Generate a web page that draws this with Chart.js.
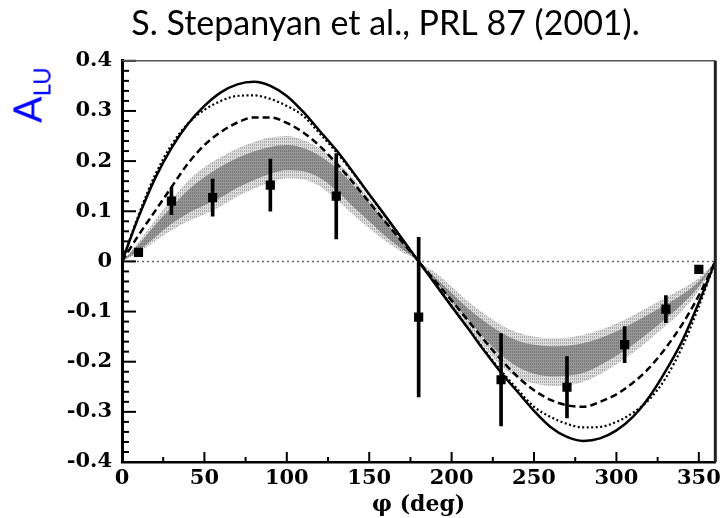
<!DOCTYPE html>
<html lang="en">
<head>
  <meta charset="UTF-8">
  <title>Beam spin asymmetry A_LU vs phi</title>
  <script src="https://cdn.jsdelivr.net/npm/chart.js"></script>
  <style>
    body { margin: 0; background: #fff; }
    #wrap { position: relative; width: 725px; height: 518px; }
    #ylab {
      position: absolute; left: 27px; top: 95px;
      transform: translate(-50%, -50%) rotate(-90deg);
      color: #0000ff; font-family: Lato, sans-serif;
      white-space: nowrap; line-height: 1;
    }
    #ylab .a { font-size: 39px; }
    #ylab .s { font-size: 24px; position: relative; top: 9px; }
  </style>
</head>
<body>
  <div id="wrap">
    <canvas id="chart" width="725" height="518"></canvas>
    <div id="ylab"><span class="a">A</span><span class="s">LU</span></div>
  </div>

  <script>
    // curve grid, phi in degrees
    const phi = [0, 10, 20, 30, 40, 50, 60, 70, 80, 90, 100, 110, 120, 130, 140, 150, 160, 170, 180,
                 190, 200, 210, 220, 230, 240, 250, 260, 270, 280, 290, 300, 310, 320, 330, 340, 350, 360];

    // model curves
    const solidCurve = [0, 0.088, 0.165, 0.226, 0.274, 0.31, 0.337, 0.353, 0.358, 0.35, 0.33, 0.298, 0.26, 0.222, 0.179, 0.134, 0.09, 0.045, 0,
                        -0.045, -0.09, -0.134, -0.179, -0.222, -0.26, -0.298, -0.33, -0.35, -0.358, -0.353, -0.337, -0.31, -0.27, -0.218, -0.158, -0.082, 0];
    const dottedCurve = [0, 0.092, 0.172, 0.232, 0.275, 0.302, 0.32, 0.33, 0.331, 0.324, 0.31, 0.29, 0.255, 0.218, 0.177, 0.133, 0.089, 0.044, 0,
                         -0.044, -0.089, -0.133, -0.177, -0.218, -0.255, -0.29, -0.31, -0.324, -0.331, -0.33, -0.32, -0.302, -0.275, -0.232, -0.17, -0.09, 0];
    const dashedCurve = [0, 0.052, 0.1, 0.148, 0.195, 0.232, 0.258, 0.277, 0.287, 0.287, 0.276, 0.257, 0.23, 0.196, 0.158, 0.118, 0.078, 0.039, 0,
                         -0.039, -0.078, -0.118, -0.158, -0.196, -0.23, -0.257, -0.276, -0.287, -0.29, -0.28, -0.265, -0.242, -0.212, -0.172, -0.125, -0.068, 0];

    // error band (outer light, inner dark)
    const bandOuterHi = [0, 0.038, 0.082, 0.123, 0.16, 0.188, 0.208, 0.225, 0.238, 0.247, 0.25, 0.242, 0.225, 0.2, 0.166, 0.126, 0.085, 0.043, 0,
                         -0.022, -0.05, -0.08, -0.105, -0.127, -0.142, -0.15, -0.153, -0.152, -0.147, -0.137, -0.124, -0.108, -0.09, -0.072, -0.054, -0.033, 0];
    const bandOuterLo = [0, 0.017, 0.04, 0.062, 0.08, 0.094, 0.11, 0.13, 0.145, 0.158, 0.166, 0.164, 0.15, 0.124, 0.094, 0.066, 0.04, 0.018, 0,
                         -0.043, -0.087, -0.13, -0.172, -0.208, -0.232, -0.243, -0.248, -0.247, -0.24, -0.225, -0.205, -0.182, -0.156, -0.128, -0.098, -0.058, 0];
    const bandInnerHi = [0, 0.033, 0.072, 0.108, 0.142, 0.168, 0.189, 0.206, 0.219, 0.228, 0.232, 0.226, 0.21, 0.186, 0.153, 0.116, 0.078, 0.039, 0,
                         -0.032, -0.063, -0.094, -0.12, -0.142, -0.158, -0.166, -0.169, -0.168, -0.163, -0.153, -0.14, -0.123, -0.105, -0.086, -0.066, -0.04, 0];
    const bandInnerLo = [0, 0.021, 0.048, 0.075, 0.096, 0.112, 0.128, 0.147, 0.162, 0.175, 0.182, 0.18, 0.167, 0.142, 0.11, 0.08, 0.05, 0.024, 0,
                         -0.039, -0.078, -0.116, -0.153, -0.186, -0.21, -0.224, -0.229, -0.228, -0.222, -0.207, -0.188, -0.166, -0.141, -0.114, -0.085, -0.05, 0];

    // CLAS data points
    const phiPoints = [10, 30, 55, 90, 130, 180, 230, 270, 305, 330, 350];
    const aluPoints = [0.018, 0.12, 0.127, 0.152, 0.13, -0.111, -0.236, -0.251, -0.166, -0.095, -0.016];
    const aluErrors = [0.008, 0.027, 0.037, 0.052, 0.085, 0.159, 0.092, 0.061, 0.036, 0.027, 0.008];

    // tick positions (major ones carry labels)
    const xTickValues = [0, 25, 50, 75, 100, 125, 150, 175, 200, 225, 250, 275, 300, 325, 350];
    const xTickLabels = ['0', '', '50', '', '100', '', '150', '', '200', '', '250', '', '300', '', '350'];
    const yTickValues = [-0.4, -0.38, -0.36, -0.34, -0.32, -0.3, -0.28, -0.26, -0.24, -0.22, -0.2, -0.18, -0.16, -0.14, -0.12,
                         -0.1, -0.08, -0.06, -0.04, -0.02, 0, 0.02, 0.04, 0.06, 0.08, 0.1, 0.12, 0.14, 0.16, 0.18, 0.2,
                         0.22, 0.24, 0.26, 0.28, 0.3, 0.32, 0.34, 0.36, 0.38, 0.4];
    const yMajorLabels = { '-0.4': '-0.4', '-0.3': '-0.3', '-0.2': '-0.2', '-0.1': '-0.1', '0': '0',
                           '0.1': '0.1', '0.2': '0.2', '0.3': '0.3', '0.4': '0.4' };

    const xy = ys => phi.map((x, i) => ({ x: x, y: ys[i] }));

    // stippled fill like the printed band
    function stipple(dark, light) {
      const c = document.createElement('canvas');
      c.width = 2;
      c.height = 3;
      const g = c.getContext('2d');
      g.fillStyle = light;
      g.fillRect(0, 0, 2, 3);
      g.fillStyle = dark;
      g.fillRect(0, 0, 1, 2);
      return g.createPattern(c, 'repeat');
    }

    function curve(label, ys, dash, width, order) {
      return {
        label: label,
        data: xy(ys),
        borderColor: '#000',
        borderWidth: width,
        borderDash: dash,
        pointRadius: 0,
        cubicInterpolationMode: 'monotone',
        fill: false,
        order: order
      };
    }

    function band(label, ys, fill, color, order) {
      return {
        label: label,
        data: xy(ys),
        borderWidth: 0,
        borderColor: 'rgba(0,0,0,0)',
        backgroundColor: color,
        pointRadius: 0,
        cubicInterpolationMode: 'monotone',
        fill: fill,
        order: order
      };
    }

    // inward tick marks plus the top and right frame
    const axesFrame = {
      id: 'axesFrame',
      afterDatasetsDraw(chart) {
        const { ctx, chartArea: a, scales: { x, y } } = chart;
        ctx.save();
        ctx.strokeStyle = '#000';
        ctx.lineWidth = 2;
        y.ticks.forEach(t => {
          const major = yMajorLabels[String(t.value)] !== undefined;
          const py = y.getPixelForValue(t.value);
          ctx.beginPath();
          ctx.moveTo(a.left, py);
          ctx.lineTo(a.left + (major ? 14 : 7), py);
          ctx.stroke();
        });
        x.ticks.forEach(t => {
          const len = t.value % 50 === 0 ? 10 : 5;
          const px = x.getPixelForValue(t.value);
          ctx.beginPath();
          ctx.moveTo(px, a.bottom);
          ctx.lineTo(px, a.bottom - len);
          ctx.stroke();
        });
        ctx.strokeStyle = '#555';
        ctx.lineWidth = 1.5;
        ctx.beginPath();
        ctx.moveTo(a.left, a.top);
        ctx.lineTo(a.right, a.top);
        ctx.stroke();
        ctx.strokeStyle = '#222';
        ctx.lineWidth = 3;
        ctx.beginPath();
        ctx.moveTo(a.right, a.top);
        ctx.lineTo(a.right, a.bottom);
        ctx.stroke();
        ctx.restore();
      }
    };

    const tickFont = { family: 'DejaVu Serif', size: 21, weight: 'bold' };
    const innerFill = stipple('#7a7a7a', '#969696');
    const outerFill = stipple('#aaaaaa', '#dedede');

    new Chart(document.getElementById('chart'), {
      type: 'line',
      data: {
        datasets: [
          {
            label: 'data',
            data: phiPoints.map((x, i) => ({ x: x, y: aluPoints[i] })),
            showLine: false,
            pointStyle: 'rect',
            pointRadius: 6.5,
            pointBorderWidth: 0,
            backgroundColor: '#000',
            borderColor: '#000',
            order: 1
          },
          {
            type: 'bar',
            label: 'errors',
            data: phiPoints.map((x, i) => ({ x: x, y: [aluPoints[i] - aluErrors[i], aluPoints[i] + aluErrors[i]] })),
            backgroundColor: '#000',
            barThickness: 3,
            order: 2
          },
          curve('solid', solidCurve, [], 2.5, 5),
          curve('dotted', dottedCurve, [2, 2.5], 2.2, 6),
          curve('dashed', dashedCurve, [7, 4], 2.5, 7),
          {
            label: 'zero',
            data: [{ x: 0, y: 0 }, { x: 360, y: 0 }],
            borderColor: '#666',
            borderWidth: 1.5,
            borderDash: [2, 3],
            pointRadius: 0,
            fill: false,
            order: 8
          },
          band('innerLo', bandInnerLo, false, innerFill, 9),
          band('innerHi', bandInnerHi, { target: 6 }, innerFill, 9),
          band('outerLo', bandOuterLo, false, outerFill, 10),
          band('outerHi', bandOuterHi, { target: 8 }, outerFill, 10)
        ]
      },
      options: {
        responsive: false,
        animation: false,
        layout: { padding: { left: 55, right: 9, top: 0, bottom: 0 } },
        plugins: {
          legend: { display: false },
          tooltip: { enabled: false },
          title: {
            display: true,
            text: 'S. Stepanyan et al., PRL 87 (2001).',
            color: '#000',
            font: { family: 'Lato', size: 34, weight: 'normal' },
            padding: { top: 4, bottom: 16 }
          }
        },
        scales: {
          x: {
            type: 'linear',
            min: 0,
            max: 360,
            offset: false,
            grid: { display: false, drawTicks: false },
            border: { display: true, color: '#000', width: 2.5 },
            afterBuildTicks: s => { s.ticks = xTickValues.map(v => ({ value: v })); },
            ticks: {
              autoSkip: false,
              maxRotation: 0,
              padding: 4,
              color: '#000',
              font: tickFont,
              callback: (v, i) => xTickLabels[i]
            },
            title: {
              display: true,
              text: 'φ (deg)',
              color: '#000',
              font: { family: 'DejaVu Serif', size: 22, weight: 'bold' },
              padding: { top: 7, bottom: 0 }
            },
            afterFit: s => { s.height = 56; }
          },
          y: {
            min: -0.4,
            max: 0.4,
            grid: { display: false, drawTicks: false },
            border: { display: true, color: '#000', width: 3 },
            afterBuildTicks: s => { s.ticks = yTickValues.map(v => ({ value: v })); },
            ticks: {
              autoSkip: false,
              padding: 10,
              color: '#000',
              font: tickFont,
              callback: v => yMajorLabels[String(v)] || ''
            },
            afterFit: s => { s.width = 67; }
          }
        }
      },
      plugins: [axesFrame]
    });
  </script>
</body>
</html>
